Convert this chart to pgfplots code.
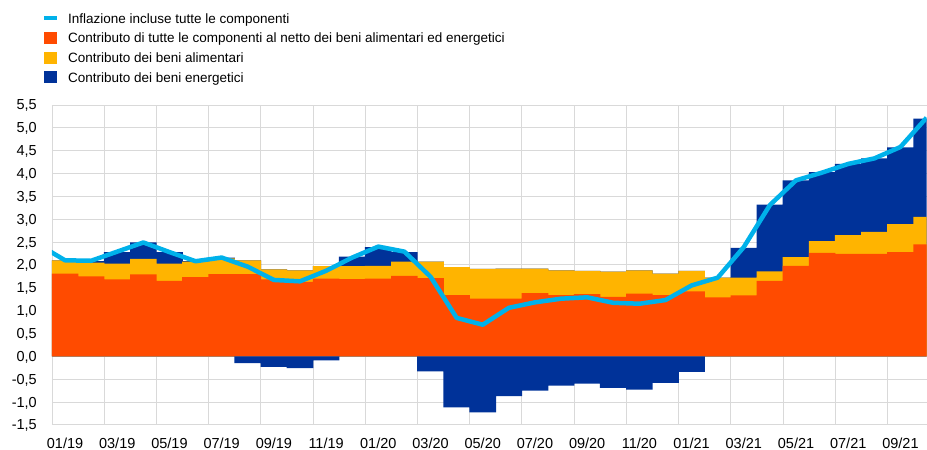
\documentclass[border=0pt]{standalone}
\usepackage{pgfplots}
\pgfplotsset{compat=1.18}
\usepackage{pgfplotstable}
\usepackage{fontspec}
\setmainfont{Liberation Sans}
\definecolor{ecbblue}{HTML}{003299}
\definecolor{ecborange}{HTML}{FF4B00}
\definecolor{ecbyellow}{HTML}{FFB400}
\definecolor{ecbcyan}{HTML}{00B1EA}
\definecolor{gridgray}{HTML}{D9D9D9}

\pgfplotstableread{
i core food energy
0 1.81 0.29 0.00
1 1.75 0.30 0.03
2 1.68 0.35 0.25
3 1.79 0.34 0.36
4 1.65 0.38 0.25
5 1.73 0.34 0.01
6 1.80 0.34 0.02
7 1.80 0.30 -0.15
8 1.68 0.22 -0.23
9 1.63 0.25 -0.26
10 1.70 0.27 -0.09
11 1.69 0.28 0.21
12 1.70 0.28 0.41
13 1.76 0.31 0.21
14 1.71 0.36 -0.33
15 1.34 0.61 -1.12
16 1.26 0.65 -1.23
17 1.26 0.66 -0.87
18 1.38 0.54 -0.75
19 1.34 0.54 -0.64
20 1.36 0.51 -0.60
21 1.30 0.55 -0.69
22 1.37 0.51 -0.73
23 1.34 0.47 -0.58
24 1.42 0.45 -0.34
25 1.29 0.43 0.00
26 1.33 0.39 0.65
27 1.65 0.21 1.46
28 1.98 0.19 1.68
29 2.26 0.26 1.51
30 2.24 0.41 1.56
31 2.24 0.48 1.61
32 2.28 0.61 1.68
33 2.45 0.60 2.15
}\comp

\pgfplotstableread{
i infl
-1 2.44
0 2.10
1 2.09
2 2.29
3 2.49
4 2.28
5 2.08
6 2.16
7 1.96
8 1.67
9 1.64
10 1.87
11 2.16
12 2.40
13 2.29
14 1.74
15 0.84
16 0.69
17 1.06
18 1.18
19 1.26
20 1.29
21 1.17
22 1.15
23 1.23
24 1.55
25 1.72
26 2.39
27 3.31
28 3.85
29 4.02
30 4.21
31 4.33
32 4.58
33 5.22
}\infl

\begin{document}
\begin{tikzpicture}
\begin{axis}[name=ax,
  scale only axis, width=875pt, height=320pt,
  xmin=-0.5, xmax=33, ymin=-1.5, ymax=5.5,
  axis x line*=bottom, axis y line*=left,
  ytick={-1.5,-1,-0.5,0,0.5,1,1.5,2,2.5,3,3.5,4,4.5,5,5.5},
  xtick={0,2,...,32},
  xticklabels={01/19,03/19,05/19,07/19,09/19,11/19,01/20,03/20,05/20,07/20,09/20,11/20,01/21,03/21,05/21,07/21,09/21},
  minor xtick={1.5,3.5,...,31.5},
  xminorgrids=true, ymajorgrids=true,
  major tick length=0pt, minor tick length=0pt,
  grid style={draw=gridgray, line width=0.9pt},
  minor grid style={draw=gridgray, line width=0.9pt},
  axis line style={draw=gridgray, line width=0.9pt},
  tick label style={font=\fontsize{14.5}{17}\selectfont},
  yticklabel style={anchor=east, inner sep=0pt, xshift=-15pt, text depth=0pt,
    /pgf/number format/.cd, fixed, fixed zerofill, precision=1, use comma, assume math mode=true},
  xticklabel style={anchor=north, inner sep=0pt, yshift=-13pt},
  legend cell align=left,
  legend style={at={(axis description cs:-0.0091,1.2906)}, anchor=north west,
    draw=none, fill=none, inner sep=0pt, row sep=7.7pt, column sep=11pt,
    font=\fontsize{13.5}{16}\selectfont,
    nodes={inner sep=0pt, text height=9.7pt, text depth=0pt}},
]
\addplot[ybar, bar width=1.02, bar shift=0pt, fill=ecbblue, draw=none, forget plot]
  table[x=i, y expr={\thisrow{core}+\thisrow{food}+max(\thisrow{energy},0)}] {\comp};
\addplot[ybar, bar width=1.02, bar shift=0pt, fill=ecbyellow, draw=none, forget plot]
  table[x=i, y expr={\thisrow{core}+\thisrow{food}}] {\comp};
\addplot[ybar, bar width=1.02, bar shift=0pt, fill=ecborange, draw=none, forget plot]
  table[x=i, y=core] {\comp};
\addplot[ybar, bar width=1.02, bar shift=0pt, fill=ecbblue, draw=none, forget plot]
  table[x=i, y expr={min(\thisrow{energy},0)}] {\comp};
\addplot[sharp plot, color=ecbcyan, line width=4.5pt, line join=round, forget plot]
  table[x=i, y=infl] {\infl};

\addlegendimage{draw=none, legend image code/.code={\path[draw=none, fill=none] (0pt,-6pt) rectangle (13pt,6pt); \path[draw=none, fill=ecbcyan] (0pt,-1.75pt) rectangle (13pt,1.75pt);}}
\addlegendentry{Inflazione incluse tutte le componenti}
\addlegendimage{draw=none, legend image code/.code={\path[draw=none, fill=ecborange] (0pt,-6pt) rectangle (13pt,6pt);}}
\addlegendentry{Contributo di tutte le componenti al netto dei beni alimentari ed energetici}
\addlegendimage{draw=none, legend image code/.code={\path[draw=none, fill=ecbyellow] (0pt,-6pt) rectangle (13pt,6pt);}}
\addlegendentry{Contributo dei beni alimentari}
\addlegendimage{draw=none, legend image code/.code={\path[draw=none, fill=ecbblue] (0pt,-6pt) rectangle (13pt,6pt);}}
\addlegendentry{Contributo dei beni energetici}
\end{axis}
\path ([xshift=-52pt,yshift=-25pt]ax.south west) rectangle ++(927pt,450pt);
\end{tikzpicture}
\end{document}
